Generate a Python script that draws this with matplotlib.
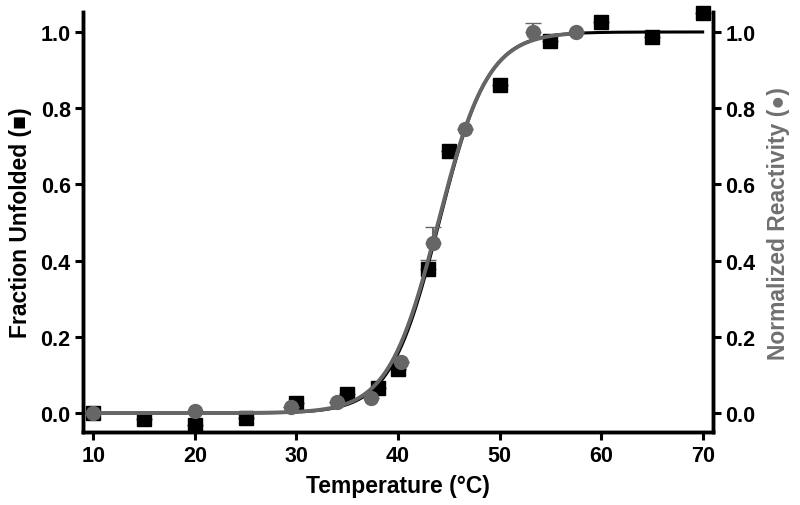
import numpy as np
import matplotlib.pyplot as plt

plt.rcParams['font.family'] = ['Liberation Sans', 'DejaVu Sans']
plt.rcParams['font.weight'] = 'bold'

# Fraction unfolded (squares)
temp_sq = [10, 15, 20, 25, 30, 35, 38, 40, 43, 45, 50, 55, 60, 65, 70]
frac_sq = [0.0, -0.015, -0.03, -0.013, 0.027, 0.05, 0.067, 0.115, 0.378,
           0.688, 0.86, 0.976, 1.026, 0.987, 1.05]
err_sq = [0, 0, 0, 0, 0, 0, 0, 0, 0.024, 0, 0, 0, 0, 0, 0]

# Normalized reactivity (circles)
temp_ci = [10, 20, 29.5, 34, 37.3, 40.3, 43.4, 46.6, 53.3, 57.5]
react_ci = [0.0, 0.005, 0.015, 0.03, 0.04, 0.133, 0.445, 0.745, 1.0, 1.0]
err_ci = [0, 0, 0, 0, 0, 0, 0.042, 0, 0.023, 0]

# fit parameters (Boltzmann)
tm_sq, slope_sq = 44.05, 2.4
tm_ci, slope_ci = 43.95, 2.45

gray = '#666666'

fig = plt.figure(figsize=(8, 5.06), dpi=100)
ax = fig.add_axes([0.104, 0.144, 0.787, 0.830])

t1 = np.linspace(10, 70, 400)
t2 = np.linspace(10, 57.5, 400)
ax.plot(t1, 1 / (1 + np.exp(-(t1 - tm_sq) / slope_sq)), color='black', lw=2.2, zorder=3)
ax.plot(t2, 1 / (1 + np.exp(-(t2 - tm_ci) / slope_ci)), color=gray, lw=2.8, zorder=4)

ax.errorbar(temp_sq, frac_sq, yerr=[[0] * len(err_sq), err_sq], fmt='s', color='black',
            markersize=9.5, ecolor=gray, elinewidth=1.5, capsize=6, zorder=2, clip_on=False)
ax.errorbar(temp_ci, react_ci, yerr=[[0] * len(err_ci), err_ci], fmt='o', color=gray,
            markersize=10, ecolor=gray, elinewidth=1.5, capsize=6, zorder=5, clip_on=False)

ax.set_xlim(9.0, 71.0)
ax.set_ylim(-0.05, 1.052)
ax.set_xticks([10, 20, 30, 40, 50, 60, 70])
ax.set_yticks([0.0, 0.2, 0.4, 0.6, 0.8, 1.0])
ax.set_yticklabels(['0.0', '0.2', '0.4', '0.6', '0.8', '1.0'])

ax2 = ax.twinx()
ax2.set_ylim(-0.05, 1.052)
ax2.set_yticks([0.0, 0.2, 0.4, 0.6, 0.8, 1.0])
ax2.set_yticklabels(['0.0', '0.2', '0.4', '0.6', '0.8', '1.0'])

for a in (ax, ax2):
    a.spines['top'].set_visible(False)
    for s in ('left', 'right', 'bottom'):
        a.spines[s].set_linewidth(2.5)
    a.tick_params(width=2.2, length=6, labelsize=15.5, pad=3)

ax.set_xlabel('Temperature (°C)', fontsize=16.5, fontweight='bold', labelpad=6)
ax.set_ylabel('Fraction Unfolded (\u25a0)', fontsize=16.5, fontweight='bold', labelpad=6)
ax2.set_ylabel('Normalized Reactivity (\u25cf)', fontsize=16.5, fontweight='bold',
               color='#707070', labelpad=8)

fig.savefig('out.png', dpi=100)
